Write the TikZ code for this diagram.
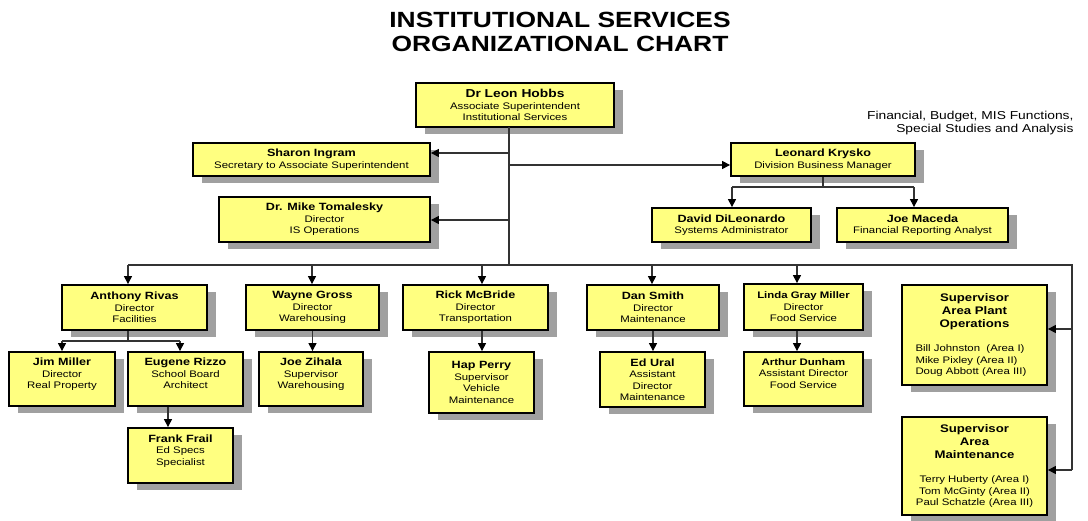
\documentclass[tikz,border=0pt]{standalone}
\usepackage{fontspec}
\setmainfont{Liberation Sans}[FakeStretch=1.2]
\usetikzlibrary{arrows.meta,shadows}
\definecolor{chartyellow}{HTML}{FFFF80}
\definecolor{shadowgray}{HTML}{A0A0A0}
\definecolor{linegray}{HTML}{333333}
\newcommand{\pname}[1]{{\fontsize{10.5}{12.5}\selectfont\bfseries #1}}
\newcommand{\phead}[1]{{\fontsize{11}{13}\selectfont\bfseries #1}}

\begin{document}
\begin{tikzpicture}[x=1pt,y=-1pt,
  orgbox/.style={draw=black, line width=1.8pt, fill=chartyellow, align=center,
    inner sep=2pt, font=\fontsize{9.5}{11.5}\selectfont,
    general shadow={fill=shadowgray, shadow xshift=9pt, shadow yshift=-7pt}},
  conn/.style={draw=linegray, line width=1.1pt},
  arr/.style={conn, -{Triangle[length=8pt,width=8pt,color=black]}}]
\useasboundingbox (0,0) rectangle (1088,521);

\node[font=\fontsize{22}{24}\selectfont\bfseries, align=center] (title) at (560,32)
  {INSTITUTIONAL SERVICES\\ORGANIZATIONAL CHART};
\node[font=\fontsize{11.5}{12.5}\selectfont, align=right, anchor=east] (note) at (1077,123)
  {Financial, Budget, MIS Functions,\\Special Studies and Analysis};

\node[orgbox, minimum width=198pt, minimum height=44pt] (hobbs) at (515,105)
  {{\fontsize{11.5}{13}\selectfont\bfseries Dr Leon Hobbs}\\Associate Superintendent\\Institutional Services};
\node[orgbox, minimum width=237pt, minimum height=33pt] (ingram) at (311.5,159.5)
  {\pname{Sharon Ingram}\\Secretary to Associate Superintendent};
\node[orgbox, minimum width=211pt, minimum height=45pt] (tomalesky) at (324.5,219.5)
  {\pname{Dr. Mike Tomalesky}\\Director\\IS Operations};
\node[orgbox, minimum width=184pt, minimum height=33pt] (krysko) at (823,159.5)
  {\pname{Leonard Krysko}\\Division Business Manager};
\node[orgbox, minimum width=159pt, minimum height=34pt] (dileonardo) at (731.5,225)
  {\pname{David DiLeonardo}\\Systems Administrator};
\node[orgbox, minimum width=171pt, minimum height=34pt] (maceda) at (922.5,225)
  {\pname{Joe Maceda}\\Financial Reporting Analyst};

\node[orgbox, minimum width=145pt, minimum height=45pt] (rivas) at (134.5,307.5)
  {\pname{Anthony Rivas}\\Director\\Facilities};
\node[orgbox, minimum width=133pt, minimum height=45pt] (gross) at (312.5,307.5)
  {\pname{Wayne Gross}\\Director\\Warehousing};
\node[orgbox, minimum width=145pt, minimum height=45pt] (mcbride) at (475.5,307.5)
  {\pname{Rick McBride}\\Director\\Transportation};
\node[orgbox, minimum width=132pt, minimum height=45pt] (smith) at (653,307.5)
  {\pname{Dan Smith}\\Director\\Maintenance};
\node[orgbox, minimum width=119pt, minimum height=46pt] (graymiller) at (803.5,307)
  {{\fontsize{9.5}{12}\selectfont\bfseries Linda Gray Miller}\\Director\\Food Service};

\node[orgbox, minimum width=106pt, minimum height=54pt] (jmiller) at (62,379)
  {\pname{Jim Miller}\\Director\\Real Property\\~};
\node[orgbox, minimum width=115pt, minimum height=54pt] (rizzo) at (185.5,379)
  {\pname{Eugene Rizzo}\\School Board\\Architect\\~};
\node[orgbox, minimum width=105pt, minimum height=55pt] (frail) at (180.5,455.5)
  {\pname{Frank Frail}\\Ed Specs\\Specialist\\~};
\node[orgbox, minimum width=104pt, minimum height=54pt] (zihala) at (311,379)
  {\pname{Joe Zihala}\\Supervisor\\Warehousing\\~};
\node[orgbox, minimum width=105pt, minimum height=61pt] (perry) at (481.5,382.5)
  {\pname{Hap Perry}\\Supervisor\\Vehicle\\Maintenance};
\node[orgbox, minimum width=105pt, minimum height=55pt] (ural) at (652.5,379.5)
  {\pname{Ed Ural}\\Assistant\\Director\\Maintenance};
\node[orgbox, minimum width=119pt, minimum height=54pt] (dunham) at (803.5,379)
  {{\fontsize{9.5}{12}\selectfont\bfseries Arthur Dunham}\\Assistant Director\\Food Service\\~};

\node[orgbox, minimum width=145pt, minimum height=100pt] (plantops) at (974.5,335)
  {\phead{Supervisor}\\[1.5pt]\phead{Area Plant}\\[1.5pt]\phead{Operations}\\[13pt]
   \makebox[118pt][l]{Bill Johnston\ \ (Area I)}\\\makebox[118pt][l]{Mike Pixley (Area II)}\\
   \makebox[118pt][l]{Doug Abbott (Area III)}};
\node[orgbox, minimum width=145pt, minimum height=98pt] (areamaint) at (974.5,466)
  {\phead{Supervisor}\\[1.5pt]\phead{Area}\\[1.5pt]\phead{Maintenance}\\[13pt]
   Terry Huberty (Area I)\\Tom McGinty (Area II)\\Paul Schatzle (Area III)};

\coordinate (trunktop) at (509,127);
\coordinate (trunkbot) at (509,265);
\coordinate (tIngram) at (509,153);
\coordinate (tKrysko) at (509,165);
\coordinate (tTomalesky) at (509,220);
\draw[conn] (trunktop) -- (trunkbot);
\draw[arr] (tIngram) -- (tIngram -| ingram.east);
\draw[arr] (tKrysko) -- (tKrysko -| krysko.west);
\draw[arr] (tTomalesky) -- (tTomalesky -| tomalesky.east);

\coordinate (kbar) at (823,187);
\coordinate (kL) at (732,187);
\coordinate (kR) at (914,187);
\draw[conn] (krysko.south) -- (kbar);
\draw[conn] (kL) -- (kR);
\draw[arr] (kL) -- (kL |- dileonardo.north);
\draw[arr] (kR) -- (kR |- maceda.north);

\coordinate (busL) at (128,265);
\coordinate (busR) at (1072,265);
\coordinate (busE) at (1072,470);
\coordinate (rPlant) at (1072,329);
\draw[conn] (busL) -- (busR) -- (busE);
\foreach \x/\n in {128/rivas,312/gross,482/mcbride,652/smith,797/graymiller}{
  \coordinate (b\n) at (\x,265);
  \draw[arr] (b\n) -- (b\n |- \n.north);
}
\draw[arr] (rPlant) -- (rPlant -| plantops.east);
\draw[arr] (busE) -- (busE -| areamaint.east);

\coordinate (rv) at (128,341);
\coordinate (rvL) at (62,341);
\coordinate (rvR) at (180,341);
\draw[conn] (rv |- rivas.south) -- (rv);
\draw[conn] (rvL) -- (rvR);
\draw[arr] (rvL) -- (rvL |- jmiller.north);
\draw[arr] (rvR) -- (rvR |- rizzo.north);
\coordinate (rz) at (168,406);
\draw[arr] (rz |- rizzo.south) -- (rz |- frail.north);
\draw[arr] (gross.south) -- (gross.south |- zihala.north);
\coordinate (mb) at (482,330);
\draw[arr] (mb |- mcbride.south) -- (mb |- perry.north);
\draw[arr] (smith.south) -- (smith.south |- ural.north);
\coordinate (gm) at (797,330);
\draw[arr] (gm |- graymiller.south) -- (gm |- dunham.north);
\end{tikzpicture}
\end{document}
